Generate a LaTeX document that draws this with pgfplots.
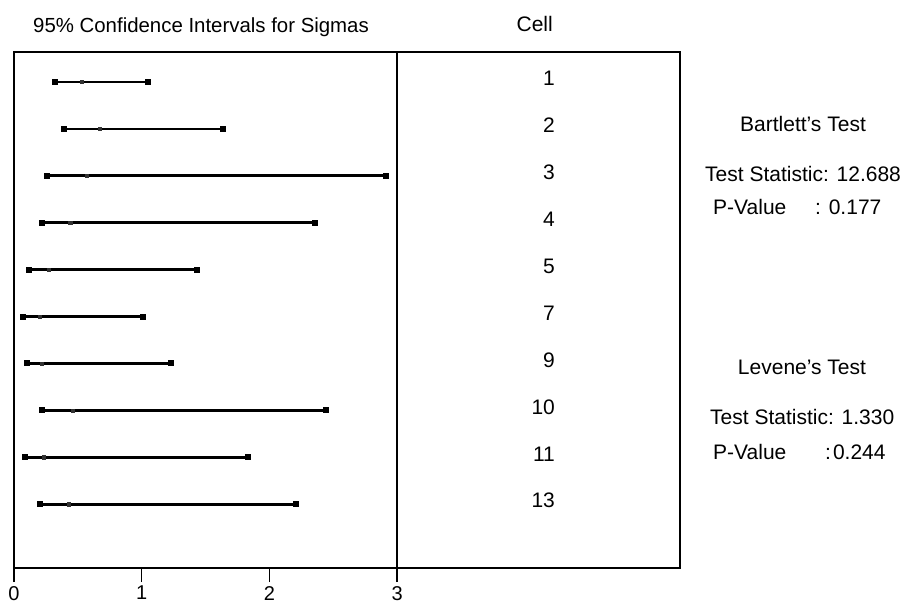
\documentclass[border=0pt]{standalone}
\usepackage{pgfplots}
\pgfplotsset{compat=1.18}
\usepackage{fontspec}
\setmainfont{Liberation Sans}
\newcommand{\fs}{\fontsize{21}{25}\selectfont}
\tikzset{
  ci/.style={black, line width=2.8pt, mark=square*, mark size=1.6pt, mark options={solid}},
  cell/.style={anchor=east, inner sep=0pt, font=\fs, yshift=3.5pt},
}
\begin{document}
\begin{tikzpicture}
\useasboundingbox (0,0) rectangle (907pt,604pt);
\begin{axis}[
  at={(14pt,36pt)}, anchor=south west,
  scale only axis, width=666pt, height=516pt,
  xmin=0, xmax=5.215, ymin=0.36, ymax=11.36, y dir=reverse,
  axis line style={line width=1.6pt},
  xtick={0,1,2,3}, ytick=\empty,
  xtick pos=bottom, tick align=outside,
  major tick length=14pt,
  tick style={line width=1.4pt, black},
  xticklabel style={font=\fontsize{20}{24}\selectfont, inner sep=0pt, yshift=-4pt},
  /pgf/number format/assume math mode=true,
  clip=false,
]
\addplot[black, line width=1.6pt] coordinates {(3,0.36) (3,11.36)};
% 95% confidence intervals (lower, upper) for each cell
\addplot[ci] coordinates {(0.32,1) (1.05,1)};
\addplot[ci] coordinates {(0.39,2) (1.64,2)};
\addplot[ci] coordinates {(0.26,3) (2.91,3)};
\addplot[ci] coordinates {(0.22,4) (2.36,4)};
\addplot[ci] coordinates {(0.12,5) (1.43,5)};
\addplot[ci] coordinates {(0.07,6) (1.01,6)};
\addplot[ci] coordinates {(0.10,7) (1.23,7)};
\addplot[ci] coordinates {(0.22,8) (2.44,8)};
\addplot[ci] coordinates {(0.09,9) (1.83,9)};
\addplot[ci] coordinates {(0.20,10) (2.21,10)};
% sigma estimates
\addplot[only marks, mark=square*, mark size=1.6pt, black!80] coordinates {
(0.53,1) (0.67,2) (0.57,3) (0.44,4) (0.27,5) (0.20,6) (0.22,7) (0.46,8) (0.23,9) (0.43,10)};
\node[cell] at (axis cs:4.237,1) {1};
\node[cell] at (axis cs:4.237,2) {2};
\node[cell] at (axis cs:4.237,3) {3};
\node[cell] at (axis cs:4.237,4) {4};
\node[cell] at (axis cs:4.237,5) {5};
\node[cell] at (axis cs:4.237,6) {7};
\node[cell] at (axis cs:4.237,7) {9};
\node[cell] at (axis cs:4.237,8) {10};
\node[cell] at (axis cs:4.237,9) {11};
\node[cell] at (axis cs:4.237,10) {13};
\end{axis}
\node[anchor=base west, inner sep=0pt, font=\fontsize{20.4}{24}\selectfont] at (33pt,571pt) {95\% Confidence Intervals for Sigmas};
\node[anchor=base east, inner sep=0pt, font=\fs] at (553pt,572pt) {Cell};
\node[anchor=base, inner sep=0pt, font=\fs] at (803pt,472pt) {Bartlett's Test};
\node[anchor=base west, inner sep=0pt, font=\fs] at (705pt,422pt) {Test Statistic: 12.688};
\node[anchor=base west, inner sep=0pt, font=\fs] at (713pt,389pt) {P-Value};
\node[anchor=base west, inner sep=0pt, font=\fs] at (815pt,389pt) {: 0.177};
\node[anchor=base, inner sep=0pt, font=\fs] at (802pt,229pt) {Levene's Test};
\node[anchor=base west, inner sep=0pt, font=\fs] at (710pt,179pt) {Test Statistic: 1.330};
\node[anchor=base west, inner sep=0pt, font=\fs] at (713pt,144pt) {P-Value};
\node[anchor=base west, inner sep=0pt, font=\fs] at (825pt,144pt) {:\hspace{2pt}0.244};
\end{tikzpicture}
\end{document}
